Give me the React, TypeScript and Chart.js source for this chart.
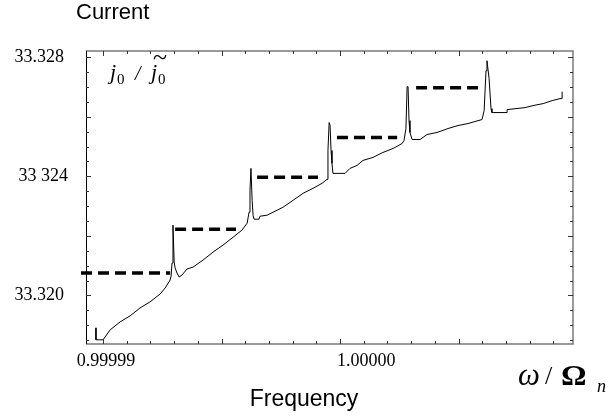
import { useEffect, useRef } from "react";
import { Chart, registerables } from "chart.js";

Chart.register(...registerables);

// ω/Ωn (frequency) and j0/j~0 (current) of the solid staircase curve
const frequency = [
  0.9999897, 0.9999897, 0.99999, 0.9999903, 0.99999072, 0.99999114, 0.99999156, 0.99999198,
  0.99999241, 0.99999262, 0.99999283, 0.99999287, 0.99999291, 0.99999295, 0.999993, 0.99999304,
  0.99999312, 0.99999321, 0.99999333, 0.99999354, 0.9999938, 0.99999422, 0.99999464, 0.99999506,
  0.99999549, 0.99999586, 0.99999608, 0.99999616, 0.9999962, 0.99999624, 0.99999629, 0.99999633,
  0.99999637, 0.99999658, 0.99999662, 0.99999692, 0.99999717, 0.99999759, 0.99999802, 0.99999844,
  0.99999886, 0.99999924, 0.99999945, 0.99999949, 0.99999954, 0.99999958, 0.99999962, 0.99999966,
  0.9999997, 1.00000021, 1.00000042, 1.00000072, 1.00000097, 1.00000139, 1.00000181, 1.00000224,
  1.00000262, 1.0000027, 1.00000278, 1.00000283, 1.00000287, 1.00000291, 1.00000295, 1.00000304,
  1.00000338, 1.00000367, 1.00000409, 1.00000456, 1.00000498, 1.0000054, 1.00000599, 1.00000608,
  1.00000616, 1.0000062, 1.00000629, 1.00000637, 1.00000641, 1.00000705, 1.00000705, 1.00000781,
  1.00000814, 1.00000857, 1.00000895, 1.00000928, 1.00000937, 1.00000937,
];
const current = [
  33.318913, 33.318511, 33.318511, 33.318846, 33.319113, 33.319314, 33.319582, 33.319783,
  33.320051, 33.320251, 33.320519, 33.320653, 33.321088, 33.32236, 33.321122, 33.320921,
  33.320753, 33.32062, 33.320686, 33.320887, 33.320954, 33.321189, 33.321456, 33.321691,
  33.321958, 33.322193, 33.322427, 33.322795, 33.323531, 33.324268, 33.323197, 33.322695,
  33.322561, 33.322561, 33.322661, 33.322695, 33.322795, 33.322962, 33.323197, 33.323431,
  33.323598, 33.323766, 33.3239, 33.32487, 33.325807, 33.325707, 33.32487, 33.324435,
  33.3241, 33.3241, 33.324268, 33.324368, 33.324536, 33.324636, 33.324803, 33.324937,
  33.325105, 33.325205, 33.325607, 33.327012, 33.327012, 33.325874, 33.325473, 33.325238,
  33.325238, 33.325406, 33.325473, 33.325607, 33.325707, 33.325774, 33.325908, 33.326209,
  33.327548, 33.327883, 33.32728, 33.326276, 33.326142, 33.326142, 33.326242, 33.326309,
  33.326376, 33.326443, 33.326544, 33.326611, 33.326611, 33.326845,
];

// dashed horizontal levels
const levelStart = [0.99998907, 0.99999304, 0.9999965, 0.99999987, 1.00000321];
const levelEnd = [0.99999283, 0.99999561, 0.99999907, 1.00000241, 1.00000582];
const levelValue = [33.320753, 33.322226, 33.323967, 33.325305, 33.326979];

// axes
const xMin = 0.99998928;
const xMax = 1.00000983;
const yMin = 33.31837;
const yMax = 33.32821;
const xTickValues = [0.99999, 1.0];
const xTickLabels = ["0.99999", "1.00000"];
const yTickValues = [33.328, 33.324, 33.32];
const yTickLabels = ["33.328", "33 324", "33.320"];

const SERIF = '"Liberation Serif", "Times New Roman", serif';
const SANS = '"Liberation Sans", Arial, sans-serif';

const framePlugin = {
  id: "frameAndText",
  afterDraw(chart: any) {
    const { ctx, chartArea } = chart;
    const xs = chart.scales.x;
    const ys = chart.scales.y;
    const { left, right, top, bottom } = chartArea;
    ctx.save();

    // frame
    ctx.strokeStyle = "#7a7a7a";
    ctx.lineWidth = 1.5;
    ctx.beginPath();
    ctx.moveTo(left, top);
    ctx.lineTo(right, top);
    ctx.lineTo(right, bottom);
    ctx.lineTo(left, bottom);
    ctx.stroke();
    ctx.strokeStyle = "#000";
    ctx.lineWidth = 1;
    ctx.beginPath();
    ctx.moveTo(left + 0.5, top);
    ctx.lineTo(left + 0.5, bottom);
    ctx.stroke();

    // inward ticks
    ctx.strokeStyle = "#333";
    ctx.lineWidth = 1;
    ctx.beginPath();
    for (let k = 0; k < 20; k++) {
      const v = 0.99999 + k * 1e-6;
      const px = Math.round(xs.getPixelForValue(v)) + 0.5;
      if (px < left || px > right) continue;
      const len = k % 5 === 0 ? 5 : 3;
      ctx.moveTo(px, bottom);
      ctx.lineTo(px, bottom - len);
      ctx.moveTo(px, top);
      ctx.lineTo(px, top + len);
    }
    for (let k = 0; k < 20; k++) {
      const v = 33.3185 + k * 0.0005;
      const py = Math.round(ys.getPixelForValue(v)) + 0.5;
      if (py < top || py > bottom) continue;
      const major = Math.abs(((v - 33.32) / 0.002) - Math.round((v - 33.32) / 0.002)) < 1e-3;
      const len = major ? 5 : 3;
      ctx.moveTo(left, py);
      ctx.lineTo(left + len, py);
      ctx.moveTo(right, py);
      ctx.lineTo(right - len, py);
    }
    ctx.stroke();

    // tick labels
    ctx.fillStyle = "#000";
    ctx.font = `18px ${SERIF}`;
    ctx.textBaseline = "alphabetic";
    xTickValues.forEach((v, i) => {
      const px = xs.getPixelForValue(v);
      if (i === 0) {
        ctx.textAlign = "center";
        ctx.fillText(xTickLabels[i], px + 3, 366);
      } else {
        ctx.textAlign = "left";
        ctx.fillText(xTickLabels[i], px - 3, 366);
      }
    });
    ctx.textAlign = "right";
    yTickValues.forEach((v, i) => {
      const py = ys.getPixelForValue(v);
      ctx.fillText(yTickLabels[i], i === 1 ? 68 : 64, py + 5);
    });

    // axis titles
    ctx.textAlign = "left";
    ctx.font = `22px ${SANS}`;
    ctx.fillText("Current", 76, 19);
    ctx.textAlign = "center";
    ctx.font = `23px ${SANS}`;
    ctx.fillText("Frequency", 304, 406);

    // ω / Ωn
    ctx.textAlign = "left";
    ctx.font = `italic 31px ${SERIF}`;
    ctx.fillText("ω", 518, 385);
    ctx.font = `26px ${SERIF}`;
    ctx.fillText("/", 545, 384);
    ctx.save();
    ctx.translate(561, 385);
    ctx.scale(1.1, 1);
    ctx.font = `bold 29px ${SERIF}`;
    ctx.fillText("Ω", 0, 0);
    ctx.restore();
    ctx.font = `italic 18px ${SERIF}`;
    ctx.fillText("n", 597, 392);

    // j0 / j~0 label
    ctx.font = `italic 22px ${SERIF}`;
    ctx.fillText("j", 110, 79);
    ctx.font = `15px ${SERIF}`;
    ctx.fillText("0", 117, 84);
    ctx.font = `italic 20px ${SERIF}`;
    ctx.fillText("/", 135, 80);
    ctx.font = `italic 22px ${SERIF}`;
    ctx.fillText("j", 151, 79);
    ctx.font = `15px ${SERIF}`;
    ctx.fillText("0", 158, 84);
    ctx.font = `26px ${SERIF}`;
    ctx.textAlign = "center";
    ctx.fillText("~", 160, 65);

    ctx.restore();
  },
};

export default function App() {
  const canvasRef = useRef<HTMLCanvasElement | null>(null);

  useEffect(() => {
    const canvas = canvasRef.current;
    if (!canvas) return;

    const curvePoints = frequency.map((f, i) => ({ x: f, y: current[i] }));
    const levelPoints: { x: number; y: number | null }[] = [];
    levelValue.forEach((lv, i) => {
      levelPoints.push({ x: levelStart[i], y: lv });
      levelPoints.push({ x: levelEnd[i], y: lv });
      if (i < levelValue.length - 1) {
        levelPoints.push({ x: (levelEnd[i] + levelStart[i + 1]) / 2, y: null });
      }
    });

    const chart = new Chart(canvas, {
      type: "line",
      data: {
        datasets: [
          {
            data: curvePoints as any,
            borderColor: "#000",
            borderWidth: 1,
            pointRadius: 0,
            tension: 0,
            fill: false,
          },
          {
            data: levelPoints as any,
            borderColor: "#000",
            borderWidth: 3.5,
            borderDash: [11, 6],
            borderCapStyle: "butt",
            pointRadius: 0,
            spanGaps: false,
            fill: false,
            clip: { left: 8, top: 0, right: 0, bottom: 0 } as any,
          },
        ],
      },
      options: {
        animation: false,
        responsive: false,
        devicePixelRatio: 1,
        parsing: false as any,
        normalized: true,
        layout: { padding: { top: 51, right: 35, left: 0, bottom: 0 } },
        plugins: {
          legend: { display: false },
          tooltip: { enabled: false },
          title: { display: false },
        },
        scales: {
          x: {
            type: "linear",
            min: xMin,
            max: xMax,
            grid: { display: false },
            border: { display: false },
            ticks: { display: false },
            afterFit: (s: any) => {
              s.height = 73;
            },
          },
          y: {
            type: "linear",
            min: yMin,
            max: yMax,
            grid: { display: false },
            border: { display: false },
            ticks: { display: false },
            afterFit: (s: any) => {
              s.width = 86;
            },
          },
        },
      },
      plugins: [framePlugin],
    });

    return () => chart.destroy();
  }, []);

  return (
    <div style={{ position: "absolute", left: 0, top: 0, width: 608, height: 417, background: "#fff" }}>
      <canvas ref={canvasRef} width={608} height={417} style={{ width: 608, height: 417, display: "block" }} />
    </div>
  );
}
